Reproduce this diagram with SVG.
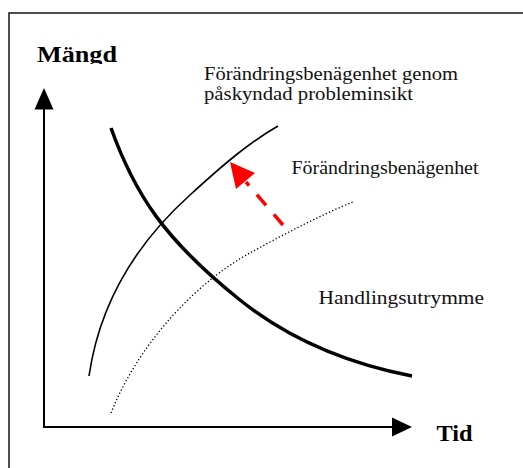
<svg xmlns="http://www.w3.org/2000/svg" width="523" height="468" viewBox="0 0 523 468">
  <style>
    .lbl { font-family: "Liberation Serif", "Times New Roman", serif; font-size: 18px; fill: #111; }
    .ax { font-family: "Liberation Serif", "Times New Roman", serif; font-size: 24px; font-weight: bold; fill: #000; }
    .axis { stroke: #000; stroke-width: 2; fill: none; }
    .curve { fill: none; stroke: #000; }
  </style>
  <defs>
    <clipPath id="clipMangd"><rect x="0" y="0" width="200" height="64"/></clipPath>
  </defs>
  <rect x="0" y="0" width="523" height="468" fill="#fff"/>
  <rect id="frame" x="9" y="13" width="600" height="600" fill="none" stroke="#222" stroke-width="1.6"/>

  <g id="axes">
    <line class="axis" x1="44" y1="108" x2="44" y2="428"/>
    <polygon points="44,88 34.5,109.5 53.5,109.5" fill="#000"/>
    <line class="axis" x1="45" y1="427" x2="394" y2="427"/>
    <polygon points="412,427 392,417.5 392,436.5" fill="#000"/>
    <text class="ax" x="37" y="62" textLength="80" lengthAdjust="spacingAndGlyphs" clip-path="url(#clipMangd)">Mängd</text>
    <text class="ax" x="436.5" y="441" textLength="36" lengthAdjust="spacingAndGlyphs">Tid</text>
  </g>

  <g id="curves">
    <path id="handlingsutrymme" class="curve" stroke-width="3.5" d="M111,128 C135,195 165,240 240,300 C290,340 350,364 412,376"/>
    <path id="forandring-genom" class="curve" stroke-width="1.6" d="M89,376 C100,300 140,240 190,195 C225,163 250,142 278,126"/>
    <path id="forandring" class="curve" stroke-width="1.3" stroke-dasharray="1.3,2.2" d="M111,413 C140,340 200,280 250,253 C275,239 320,215 353,202"/>
  </g>

  <g id="connectors">
    <line x1="283" y1="225" x2="246" y2="182" stroke="#ff0000" stroke-width="3.5" stroke-dasharray="14,12"/>
    <polygon points="230,162 236,189 255,173" fill="#ff0000"/>
  </g>

  <g id="labels">
    <text class="lbl" x="204" y="80" textLength="254" lengthAdjust="spacingAndGlyphs">Förändringsbenägenhet genom</text>
    <text class="lbl" x="204" y="99.5" textLength="209" lengthAdjust="spacingAndGlyphs">påskyndad probleminsikt</text>
    <text class="lbl" x="291.5" y="173.5" textLength="187" lengthAdjust="spacingAndGlyphs">Förändringsbenägenhet</text>
    <text class="lbl" x="318.5" y="304" textLength="165.5" lengthAdjust="spacingAndGlyphs">Handlingsutrymme</text>
  </g>
</svg>
